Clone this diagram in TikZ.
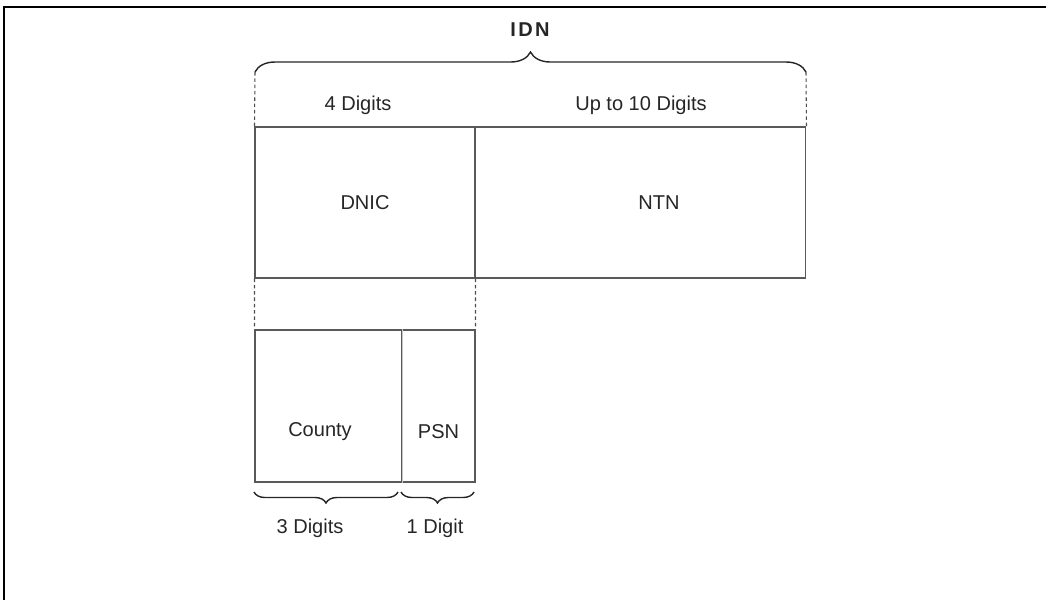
\documentclass[tikz,border=0pt]{standalone}
\usepackage{fontspec}
\setmainfont{Liberation Sans}
\usetikzlibrary{decorations.pathreplacing}

\begin{document}
\begin{tikzpicture}[x=0.02cm, y=0.02cm,
    cell/.style={draw=black!65, line width=0.6pt, inner sep=0pt},
    txt/.style={font=\fontsize{11.4}{13}\selectfont, text=black!85},
    guide/.style={draw=black!70, line width=0.6pt, dash pattern=on 2pt off 1.6pt},
    brc/.style={draw=black!85, line width=0.8pt, decorate}]
    \useasboundingbox (0,0) rectangle (1046,-600);
    \draw[line width=1.2pt] (4,-600) -- (4,-7) -- (1046,-7);
    \node[cell, txt, minimum width=4.4cm, minimum height=3.02cm] (dnic) at (365,-202.5) {DNIC};
    \node[cell, minimum width=6.62cm, minimum height=3.02cm, label={[txt, xshift=0.37cm]center:NTN}] (ntn) at (640.5,-202.5) {};
    \node[cell, minimum width=2.94cm, minimum height=3.04cm, label={[txt, shift={(-0.17cm,-0.52cm)}]center:County}] (county) at (328.5,-406) {};
    \node[cell, minimum width=1.46cm, minimum height=3.04cm, label={[txt, yshift=-0.52cm]center:PSN}] (psn) at (438.5,-406) {};
    \draw[gray!45, line width=1pt] (county.north east) -- (county.south east);
    \draw[guide] (dnic.south west) -- (county.north west);
    \draw[guide] (dnic.south east) -- (psn.north east);
    \coordinate (idnL) at (255,-72);
    \coordinate (idnR) at (806,-72);
    \draw[guide] (idnL) -- (dnic.north west);
    \draw[guide] (idnR) -- (ntn.north east);
    \draw[brc, decoration={brace, amplitude=0.4cm}] (idnL) -- (idnR);
    \node[txt, font=\fontsize{11.4}{13}\selectfont\bfseries\addfontfeature{LetterSpace=12}] (idn) at (530,-30) {IDN};
    \node[txt] (four) at (358,-105) {4 Digits};
    \node[txt] (upto) at (641,-105) {Up to 10 Digits};
    \coordinate (cL) at (254,-492);
    \coordinate (cR) at (398,-492);
    \coordinate (pL) at (401,-492);
    \coordinate (pR) at (474,-492);
    \draw[brc, decoration={brace, mirror, amplitude=0.22cm}] (cL) -- (cR);
    \draw[brc, decoration={brace, mirror, amplitude=0.22cm}] (pL) -- (pR);
    \node[txt] (three) at (310,-528) {3 Digits};
    \node[txt] (one) at (435,-528) {1 Digit};
\end{tikzpicture}
\end{document}
